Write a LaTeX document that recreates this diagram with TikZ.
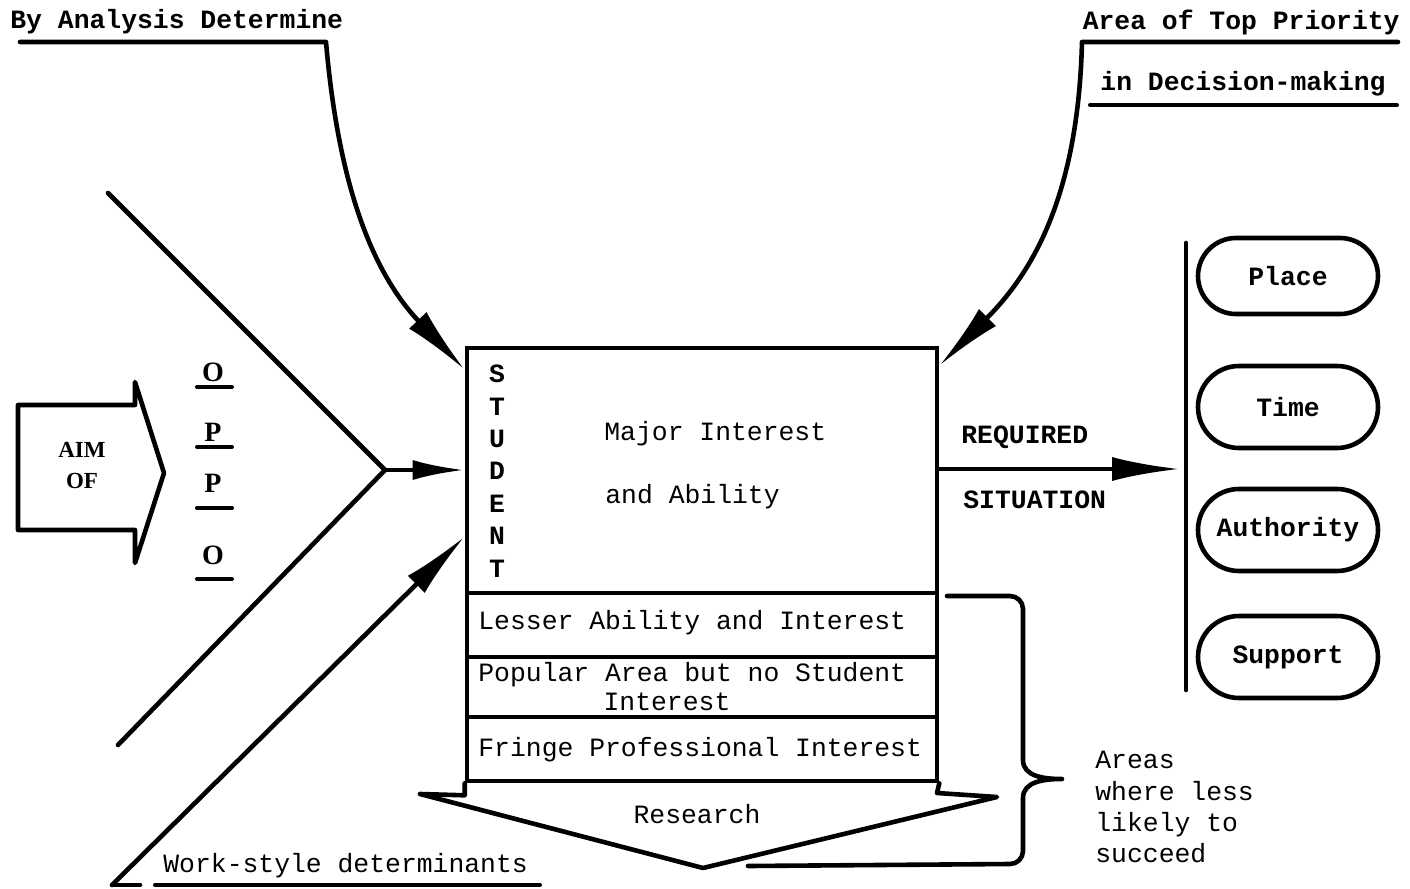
\documentclass[tikz,border=0pt]{standalone}
\usepackage{fontspec}
\newfontfamily\tw{Liberation Mono}
\newfontfamily\serifface{Liberation Serif}
\usetikzlibrary{arrows.meta,shapes.misc}
\begin{document}
\begin{tikzpicture}[x=0.5pt,y=-0.5pt,
  ink/.style={line width=2.3pt, line cap=round, line join=round},
  rule/.style={line width=2pt, line cap=round},
  bigtip/.style={-{Latex[length=34pt,width=12pt]}},
  midtip/.style={-{Latex[length=26pt,width=10pt]}},
  txt/.style={font=\tw\fontsize{13.2}{16}\selectfont, inner sep=0pt},
  btxt/.style={font=\tw\bfseries\fontsize{13.2}{16}\selectfont, inner sep=0pt},
  cell/.style={draw, line width=2.3pt, rectangle, minimum width=235pt, inner sep=0pt},
  stadium/.style={draw, line width=2.3pt, rounded rectangle, minimum width=90pt,
    minimum height=41pt, inner sep=0pt, font=\tw\bfseries\fontsize{13.2}{16}\selectfont},
  oppo/.style={font=\serifface\bfseries\fontsize{14}{16}\selectfont, inner sep=0pt},
]
\useasboundingbox (0,0) rectangle (1410,889);

% ---- central block of interest areas ----
\node[cell, minimum height=122.5pt] (major) at (702,470.5) {};
\node[cell, minimum height=32pt] (lesser) at (702,625) {};
\node[cell, minimum height=30pt] (popular) at (702,687) {};
\node[cell, minimum height=32pt] (fringe) at (702,749) {};

\node[btxt, align=center, font=\tw\bfseries\fontsize{13.2}{16.2}\selectfont] (student) at (497,471)
  {S\\T\\U\\D\\E\\N\\T};
\node[txt, anchor=west] (maj1) at (604,434) {Major Interest};
\node[txt, anchor=west] (maj2) at (605,497) {and Ability};
\node[txt, anchor=west] (les) at (478,623) {Lesser Ability and Interest};
\node[txt, anchor=west] (pop1) at (478,675) {Popular Area but no Student};
\node[txt] (pop2) at (667,702) {Interest};
\node[txt, anchor=west] (fri) at (478,750) {Fringe Professional Interest};

% research arrow under the block
\draw[ink] (fringe.south west) -- ++(0,12) -- (420,794) -- (703,868)
  -- (997,797) -- (937,793) -- (fringe.south east);
\node[txt] (research) at (697,814) {Research};

% ---- top labels with curved arrows ----
\node[btxt, anchor=west] (analysis) at (10,22) {By Analysis Determine};
\draw[ink, bigtip] (20,42) -- (326,42) .. controls (338,180) and (370,270)
  .. ([yshift=-12pt]major.north west);

\node[btxt, anchor=east] (prio1) at (1400,22) {Area of Top Priority};
\node[btxt, anchor=east] (prio2) at (1386,84) {in Decision-making};
\draw[rule] (1090,105) -- (1397,105);
\draw[ink, bigtip] (1398,42) -- (1082,42) .. controls (1078,200) and (1030,275)
  .. ([yshift=-10pt]major.north east);

% ---- aim block and chevron ----
\draw[ink] (18,405) -- (135,405) -- (135,382) -- (164,473) -- (135,563)
  -- (135,530) -- (18,530) -- cycle;
\node[font=\serifface\bfseries\fontsize{11.5}{15.5}\selectfont, align=center, inner sep=0pt]
  (aim) at (82,466) {AIM\\OF};

\node[oppo] (o1) at (213,372) {O};
\node[oppo] (p1) at (213,432) {P};
\node[oppo] (p2) at (213,483) {P};
\node[oppo] (o2) at (213,555) {O};
\draw[rule] (197,387) -- (232,387);
\draw[rule] (197,447) -- (232,447);
\draw[rule] (197,508) -- (232,508);
\draw[rule] (197,579) -- (232,579);

\coordinate (chev) at (385,470);
\draw[ink] (108,193) -- (chev) -- (118,745);
\draw[ink, midtip] (chev) -- (major.west |- chev);

% ---- work-style determinants ----
\coordinate (wsfoot) at (112,885);
\node[txt, anchor=west] (work) at (163,866) {Work-style determinants};
\draw[rule] (155,885) -- (540,885);
\draw[ink] (wsfoot) -- (140,885);
\draw[ink, bigtip] (wsfoot) -- ([yshift=-33pt]major.west);

% ---- required situation ----
\node[btxt, anchor=west] (req1) at (961,437) {REQUIRED};
\node[btxt, anchor=west] (req2) at (963,500) {SITUATION};
\draw[ink] (1186,243) coordinate (bartop) -- (1186,690) coordinate (barbot);
\draw[ink, bigtip] (major.east |- 0,469) -- (1180,469);

\node[stadium, minimum height=38pt] (place) at (1288,276) {Place};
\node[stadium] (time) at (1288,407) {Time};
\node[stadium] (auth) at (1288,530) {Authority};
\node[stadium] (supp) at (1288,657) {Support};

% ---- brace over the lesser areas ----
\draw[ink] (947,596) -- (1010,596) to[out=0,in=90] (1023,609) -- (1023,760)
  to[out=-90,in=180] (1062,779) to[out=180,in=90] (1023,798) -- (1023,851)
  to[out=-90,in=0] (1010,864) -- (748,866);
\node[txt, anchor=north west, align=left, font=\tw\fontsize{13.2}{15.7}\selectfont]
  (areas) at (1095,751) {Areas\\where less\\likely to\\succeed};
\end{tikzpicture}
\end{document}
